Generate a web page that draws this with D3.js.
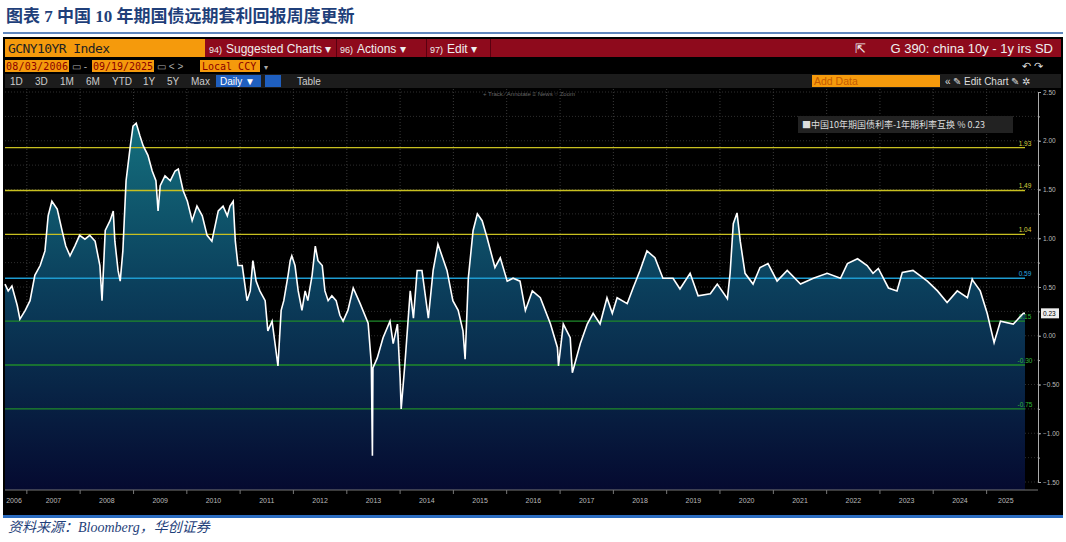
<!DOCTYPE html>
<html><head><meta charset="utf-8">
<script src="https://cdn.jsdelivr.net/npm/d3@7"></script>
<style>body{margin:0;background:#fff;}svg{display:block;font-family:"Liberation Sans",Arial,sans-serif;}</style>
</head><body><svg id="c" width="1066" height="542"></svg>
<script>
const dates=[2006.59,2006.65,2006.72,2006.82,2006.87,2006.97,2007.06,2007.15,2007.25,2007.34,2007.40,2007.47,2007.57,2007.66,2007.73,2007.81,2007.90,2007.99,2008.09,2008.18,2008.28,2008.37,2008.41,2008.47,2008.56,2008.62,2008.65,2008.71,2008.75,2008.80,2008.86,2008.94,2008.99,2009.05,2009.12,2009.18,2009.27,2009.35,2009.42,2009.46,2009.50,2009.59,2009.69,2009.78,2009.84,2009.93,2010.01,2010.10,2010.19,2010.29,2010.38,2010.47,2010.59,2010.68,2010.76,2010.81,2010.87,2010.91,2010.96,2011.04,2011.13,2011.19,2011.24,2011.30,2011.37,2011.47,2011.52,2011.60,2011.66,2011.71,2011.77,2011.82,2011.90,2011.94,2011.97,2012.03,2012.09,2012.16,2012.22,2012.27,2012.35,2012.41,2012.46,2012.54,2012.59,2012.65,2012.72,2012.80,2012.87,2012.93,2013.02,2013.12,2013.25,2013.40,2013.46,2013.48,2013.49,2013.57,2013.68,2013.81,2013.87,2013.95,2014.00,2014.02,2014.09,2014.19,2014.25,2014.32,2014.41,2014.53,2014.62,2014.71,2014.88,2014.99,2015.09,2015.18,2015.22,2015.28,2015.37,2015.45,2015.54,2015.63,2015.78,2015.88,2016.01,2016.12,2016.25,2016.35,2016.48,2016.63,2016.82,2016.95,2016.97,2017.06,2017.19,2017.23,2017.38,2017.51,2017.62,2017.75,2017.88,2017.98,2018.07,2018.26,2018.37,2018.50,2018.63,2018.78,2018.93,2019.12,2019.25,2019.44,2019.59,2019.82,2019.95,2020.14,2020.19,2020.25,2020.32,2020.38,2020.47,2020.62,2020.75,2020.90,2021.07,2021.26,2021.51,2021.75,2022.01,2022.26,2022.39,2022.58,2022.76,2022.87,2022.97,2023.16,2023.32,2023.42,2023.62,2023.89,2024.08,2024.26,2024.45,2024.64,2024.73,2024.75,2024.88,2025.01,2025.14,2025.26,2025.50,2025.69,2025.72];
const values=[0.53,0.46,0.51,0.31,0.17,0.26,0.36,0.62,0.72,0.87,1.23,1.38,1.30,1.08,0.92,0.82,0.92,1.03,0.99,1.03,0.97,0.72,0.36,1.08,1.18,1.28,0.97,0.67,0.56,0.87,1.59,1.95,2.15,2.18,2.05,1.95,1.85,1.69,1.59,1.28,1.54,1.64,1.59,1.69,1.71,1.49,1.38,1.18,1.33,1.23,1.03,0.97,1.28,1.33,1.23,1.33,1.38,0.97,0.72,0.72,0.36,0.46,0.77,0.56,0.46,0.36,0.05,0.15,-0.10,-0.31,0.26,0.36,0.62,0.77,0.82,0.72,0.46,0.26,0.46,0.36,0.62,0.92,0.77,0.72,0.46,0.36,0.41,0.36,0.21,0.15,0.26,0.49,0.33,0.13,-0.29,-1.23,-0.33,-0.23,-0.02,0.15,-0.08,0.12,-0.43,-0.75,-0.29,0.46,0.18,0.67,0.67,0.18,0.67,0.94,0.67,0.36,0.26,0.05,-0.24,0.59,1.08,1.25,1.18,1.01,0.70,0.80,0.56,0.59,0.56,0.26,0.46,0.39,0.12,-0.12,-0.31,0.12,-0.02,-0.38,-0.08,0.12,0.23,0.12,0.39,0.23,0.39,0.33,0.49,0.67,0.87,0.80,0.59,0.59,0.48,0.64,0.41,0.43,0.53,0.38,0.64,1.15,1.26,0.97,0.64,0.53,0.70,0.74,0.56,0.67,0.53,0.59,0.64,0.59,0.74,0.79,0.72,0.64,0.69,0.49,0.46,0.65,0.67,0.56,0.46,0.34,0.46,0.39,0.58,0.56,0.46,0.23,-0.07,0.15,0.12,0.23,0.23];
const refLevels=[1.93,1.49,1.04,0.59,0.15,-0.30,-0.75];
const refColors=["#c8c020","#c8c020","#c8c020","#1e9bd0","#1f8a2a","#1f8a2a","#1f8a2a"];
const refText=["#d8d040","#d8d040","#d8d040","#2aa8e0","#2fb83a","#2fb83a","#2fb83a"];
const yTicks=[2.5,2.0,1.5,1.0,0.5,0.0,-0.5,-1.0,-1.5];
const years=[2006,2007,2008,2009,2010,2011,2012,2013,2014,2015,2016,2017,2018,2019,2020,2021,2022,2023,2024,2025];
const lastValue=0.23;

const svg=d3.select("#c");
const toDate=t=>{const yy=Math.floor(t);const s=new Date(yy,0,1),e=new Date(yy+1,0,1);return new Date(+s+(t-yy)*(e-s));};
const data=dates.map((d,i)=>({d:toDate(d),v:values[i]}));

svg.append("text").attr("x",6).attr("y",22).attr("font-family","'Liberation Serif','Noto Sans CJK SC',serif").attr("font-weight","bold").attr("font-size",17).attr("fill","#1f3f7a").text("图表 7  中国 10 年期国债远期套利回报周度更新");
svg.append("line").attr("x1",3).attr("x2",1063).attr("y1",33).attr("y2",33).attr("stroke","#2b5fa8").attr("stroke-width",1.5);

svg.append("rect").attr("x",3).attr("y",37).attr("width",1060).attr("height",481).attr("fill","#000");
svg.append("rect").attr("x",205).attr("y",39).attr("width",856).attr("height",18).attr("fill","#8e0a1c");
svg.append("rect").attr("x",5).attr("y",39).attr("width",200).attr("height",18).attr("fill","#f59a0c");
svg.append("text").attr("x",8).attr("y",53).attr("font-size",13).attr("fill","#222").attr("font-family","'DejaVu Sans Mono',monospace").attr("textLength",102).text("GCNY10YR Index");
const hdr=[[209,"94)","Suggested Charts ▾"],[340,"96)","Actions ▾"],[430,"97)","Edit ▾"]];
hdr.forEach(h=>{svg.append("text").attr("x",h[0]).attr("y",53).attr("font-size",9).attr("fill","#eee").text(h[1]);
 svg.append("text").attr("x",h[0]+17).attr("y",53).attr("font-size",12).attr("fill","#eee").text(h[2]);});
[336,426,490].forEach(xx=>svg.append("rect").attr("x",xx).attr("y",39).attr("width",1).attr("height",18).attr("fill","#5a0010"));
svg.append("text").attr("x",1053).attr("y",53).attr("text-anchor","end").attr("font-size",13).attr("fill","#eee").text("G 390: china 10y - 1y irs SD");
svg.append("text").attr("x",855).attr("y",53).attr("font-size",13).attr("fill","#eee").text("⇱");
svg.append("rect").attr("x",5).attr("y",60).attr("width",64).attr("height",12).attr("fill","#f59a0c");
svg.append("rect").attr("x",92).attr("y",60).attr("width",62).attr("height",12).attr("fill","#f59a0c");
svg.append("rect").attr("x",200).attr("y",60).attr("width",60).attr("height",12).attr("fill","#f59a0c");
const mono="'DejaVu Sans Mono',monospace";
svg.append("text").attr("x",6).attr("y",70).attr("font-size",10).attr("font-family",mono).attr("fill","#8b0000").attr("textLength",62).text("08/03/2006");
svg.append("text").attr("x",72).attr("y",70).attr("font-size",10).attr("fill","#aaa").text("▭ -");
svg.append("text").attr("x",93).attr("y",70).attr("font-size",10).attr("font-family",mono).attr("fill","#8b0000").attr("textLength",60).text("09/19/2025");
svg.append("text").attr("x",157).attr("y",70).attr("font-size",10).attr("fill","#aaa").text("▭  <  >");
svg.append("text").attr("x",202).attr("y",70).attr("font-size",10).attr("font-family",mono).attr("fill","#8b0000").text("Local CCY");
svg.append("text").attr("x",264).attr("y",70).attr("font-size",8).attr("fill","#aaa").text("▾");
svg.append("text").attr("x",1022).attr("y",70).attr("font-size",11).attr("fill","#ddd").text("↶   ↷");
svg.append("rect").attr("x",5).attr("y",74).attr("width",1056).attr("height",14).attr("fill","#1c1c1c");
const btns=[[10,"1D"],[35,"3D"],[60,"1M"],[86,"6M"],[112,"YTD"],[143,"1Y"],[167,"5Y"],[191,"Max"]];
btns.forEach(b=>svg.append("text").attr("x",b[0]).attr("y",85).attr("font-size",10).attr("fill","#ccc").text(b[1]));
svg.append("rect").attr("x",216).attr("y",75).attr("width",45).attr("height",12).attr("fill","#1f5fbf");
svg.append("text").attr("x",220).attr("y",85).attr("font-size",10).attr("fill","#fff").text("Daily ▼");
svg.append("rect").attr("x",265).attr("y",75).attr("width",16).attr("height",12).attr("fill","#1f5fbf");
svg.append("text").attr("x",297).attr("y",85).attr("font-size",10).attr("fill","#ccc").text("Table");
svg.append("rect").attr("x",812).attr("y",75).attr("width",128).attr("height",12).attr("fill","#f59a0c");
svg.append("text").attr("x",814).attr("y",85).attr("font-size",10.5).attr("fill","#c45a00").text("Add Data");
svg.append("text").attr("x",945).attr("y",85).attr("font-size",10).attr("fill","#ddd").text("«  ✎ Edit Chart  ✎  ✲");
svg.append("text").attr("x",483).attr("y",96).attr("font-size",6).attr("fill","#666").text("+ Track   ⁄ Annotate   ≡ News   ○ Zoom");

const x=d3.scaleTime().domain([toDate(2006.59),toDate(2025.72)]).range([5,1025]);
const y=d3.scaleLinear().domain([-1.5,2.5]).range([482,92]);
const plotTop=89,plotBot=490,plotRight=1038;

const g=svg.append("g");
years.slice(1).forEach(yr=>g.append("line").attr("x1",x(new Date(yr,0,1))).attr("x2",x(new Date(yr,0,1))).attr("y1",plotTop).attr("y2",plotBot).attr("stroke","#3a3a3a").attr("stroke-dasharray","1,2"));
d3.range(-1.5,2.51,0.25).forEach(v=>g.append("line").attr("x1",5).attr("x2",plotRight).attr("y1",y(v)).attr("y2",y(v)).attr("stroke","#2e2e2e").attr("stroke-dasharray","1,2"));

const defs=svg.append("defs");
const gr=defs.append("linearGradient").attr("id","gr").attr("gradientUnits","userSpaceOnUse").attr("x1",0).attr("x2",0).attr("y1",y(2.2)).attr("y2",plotBot);
gr.append("stop").attr("offset",0).attr("stop-color","#14707e");
gr.append("stop").attr("offset",0.45).attr("stop-color","#0b3f5c");
gr.append("stop").attr("offset",1).attr("stop-color","#050a30");
svg.append("path").datum(data).attr("fill","url(#gr)").attr("d",d3.area().x(d=>x(d.d)).y0(plotBot).y1(d=>y(d.v)));

refLevels.forEach((v,i)=>{
 svg.append("line").attr("x1",5).attr("x2",1025).attr("y1",y(v)).attr("y2",y(v)).attr("stroke",refColors[i]).attr("stroke-width",1.3);
 svg.append("text").attr("x",1025).attr("y",y(v)-2).attr("text-anchor","middle").attr("font-size",6.5).attr("fill",refText[i]).text(v.toFixed(2));
});
svg.append("path").datum(data).attr("fill","none").attr("stroke","#fff").attr("stroke-width",1.6).attr("d",d3.line().x(d=>x(d.d)).y(d=>y(d.v)));

const ax=svg.append("g").attr("transform",`translate(${plotRight},0)`).call(d3.axisRight(y).tickValues(yTicks).tickSize(3).tickFormat(d3.format(".2f")));
ax.select(".domain").attr("stroke","#aaa");
ax.selectAll("line").attr("stroke","#aaa");
ax.selectAll("text").attr("fill","#bbb").attr("font-size",6.5).attr("x",5);
svg.append("g").attr("transform",`translate(${plotRight},0)`).call(d3.axisRight(y).tickValues(d3.range(-1.5,2.5,0.25)).tickSize(2).tickFormat("")).selectAll("line,path").attr("stroke","#aaa");
svg.append("rect").attr("x",1041).attr("y",y(lastValue)-5).attr("width",18).attr("height",10).attr("fill","#eee");
svg.append("text").attr("x",1043).attr("y",y(lastValue)+3).attr("font-size",6.5).attr("fill","#000").text(lastValue.toFixed(2));

svg.append("line").attr("x1",5).attr("x2",plotRight).attr("y1",plotBot).attr("y2",plotBot).attr("stroke","#777");
years.forEach(yr=>{
 const xa=Math.max(x(new Date(yr,0,1)),5), xb=Math.min(x(new Date(yr+1,0,1)),1025);
 svg.append("text").attr("x",yr===2006?14:(xa+xb)/2).attr("y",503).attr("text-anchor","middle").attr("font-size",7).attr("fill","#bbb").text(yr);
 if(yr>2006) svg.append("line").attr("x1",xa).attr("x2",xa).attr("y1",plotBot).attr("y2",plotBot+4).attr("stroke","#777");
});
svg.append("rect").attr("x",3).attr("y",515).attr("width",1060).attr("height",3).attr("fill","#2b6cc0");

svg.append("rect").attr("x",798).attr("y",116).attr("width",215).attr("height",17).attr("fill","#222");
svg.append("text").attr("x",802).attr("y",128).attr("font-size",9).attr("fill","#ddd").attr("font-family","'Noto Sans CJK SC',sans-serif").text("■中国10年期国债利率-1年期利率互换 % 0.23");

svg.append("text").attr("x",8).attr("y",532).attr("font-size",14).attr("font-style","italic").attr("fill","#1f3f7a").attr("font-family","'Liberation Serif','Noto Sans CJK SC',serif").text("资料来源：Bloomberg，华创证券");
</script></body></html>
